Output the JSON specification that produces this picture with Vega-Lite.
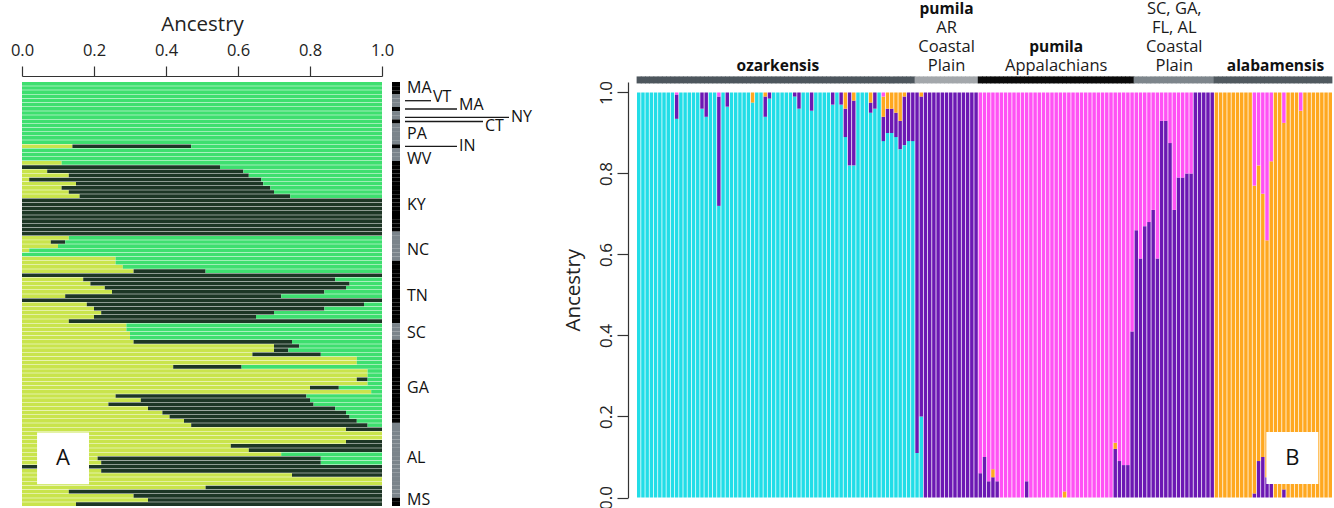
{
"$schema": "https://vega.github.io/schema/vega-lite/v6.json",
"padding": {"left": 10, "top": 1, "right": 2, "bottom": 2},
"background": "white",
"bounds": "flush",
"spacing": 10,
"config": {"view": {"stroke": null}, "font": "Open Sans", "axis": {"grid": false}},
"resolve": {"scale": {"color": "independent"}},
"datasets": {
"rowsA": [
{"r":0,"st":"MA","K1":0,"K2":0,"K3":1},{"r":1,"st":"MA","K1":0,"K2":0,"K3":1},{"r":2,"st":"MA","K1":0,"K2":0,"K3":1},
{"r":3,"st":"VT","K1":0,"K2":0,"K3":1},{"r":4,"st":"VT","K1":0,"K2":0,"K3":1},{"r":5,"st":"VT","K1":0,"K2":0,"K3":1},
{"r":6,"st":"MA","K1":0,"K2":0,"K3":1},{"r":7,"st":"NY","K1":0,"K2":0,"K3":1},{"r":8,"st":"NY","K1":0,"K2":0,"K3":1},
{"r":9,"st":"CT","K1":0,"K2":0,"K3":1},{"r":10,"st":"PA","K1":0,"K2":0,"K3":1},{"r":11,"st":"PA","K1":0,"K2":0,"K3":1},
{"r":12,"st":"PA","K1":0,"K2":0,"K3":1},{"r":13,"st":"PA","K1":0,"K2":0,"K3":1},{"r":14,"st":"PA","K1":0,"K2":0,"K3":1},
{"r":15,"st":"IN","K1":0.14,"K2":0.33,"K3":0.53},{"r":16,"st":"WV","K1":0,"K2":0,"K3":1},{"r":17,"st":"WV","K1":0,"K2":0,"K3":1},
{"r":18,"st":"WV","K1":0,"K2":0,"K3":1},{"r":19,"st":"KY","K1":0.11,"K2":0,"K3":0.89},{"r":20,"st":"KY","K1":0,"K2":0.55,"K3":0.45},
{"r":21,"st":"KY","K1":0.07,"K2":0.545,"K3":0.385},{"r":22,"st":"KY","K1":0.13,"K2":0.5,"K3":0.37},{"r":23,"st":"KY","K1":0.02,"K2":0.645,"K3":0.335},
{"r":24,"st":"KY","K1":0.15,"K2":0.52,"K3":0.33},{"r":25,"st":"KY","K1":0.11,"K2":0.58,"K3":0.31},{"r":26,"st":"KY","K1":0.13,"K2":0.57,"K3":0.3},
{"r":27,"st":"KY","K1":0.16,"K2":0.585,"K3":0.255},{"r":28,"st":"KY","K1":0,"K2":1,"K3":0},{"r":29,"st":"KY","K1":0,"K2":1,"K3":0},
{"r":30,"st":"KY","K1":0,"K2":1,"K3":0},{"r":31,"st":"KY","K1":0,"K2":1,"K3":0},{"r":32,"st":"KY","K1":0,"K2":1,"K3":0},
{"r":33,"st":"KY","K1":0,"K2":1,"K3":0},{"r":34,"st":"KY","K1":0,"K2":1,"K3":0},{"r":35,"st":"KY","K1":0,"K2":1,"K3":0},
{"r":36,"st":"NC","K1":0,"K2":1,"K3":0},{"r":37,"st":"NC","K1":0.13,"K2":0,"K3":0.87},{"r":38,"st":"NC","K1":0.08,"K2":0.04,"K3":0.88},
{"r":39,"st":"NC","K1":0.1,"K2":0,"K3":0.9},{"r":40,"st":"NC","K1":0.02,"K2":0,"K3":0.98},{"r":41,"st":"NC","K1":0,"K2":0,"K3":1},
{"r":42,"st":"NC","K1":0.26,"K2":0,"K3":0.74},{"r":43,"st":"TN","K1":0.26,"K2":0,"K3":0.74},{"r":44,"st":"TN","K1":0.28,"K2":0,"K3":0.72},
{"r":45,"st":"TN","K1":0.31,"K2":0.2,"K3":0.49},{"r":46,"st":"TN","K1":0,"K2":1,"K3":0},{"r":47,"st":"TN","K1":0.17,"K2":0.7,"K3":0.13},
{"r":48,"st":"TN","K1":0.19,"K2":0.72,"K3":0.09},{"r":49,"st":"TN","K1":0.23,"K2":0.67,"K3":0.1},{"r":50,"st":"TN","K1":0.25,"K2":0.59,"K3":0.16},
{"r":51,"st":"TN","K1":0.12,"K2":0.6,"K3":0.28},{"r":52,"st":"TN","K1":0,"K2":1,"K3":0},{"r":53,"st":"TN","K1":0.18,"K2":0.77,"K3":0.05},
{"r":54,"st":"TN","K1":0.2,"K2":0.64,"K3":0.16},{"r":55,"st":"TN","K1":0.22,"K2":0.48,"K3":0.3},{"r":56,"st":"TN","K1":0.2,"K2":0.45,"K3":0.35},
{"r":57,"st":"TN","K1":0.13,"K2":0.87,"K3":0},{"r":58,"st":"SC","K1":0.29,"K2":0,"K3":0.71},{"r":59,"st":"SC","K1":0.29,"K2":0,"K3":0.71},
{"r":60,"st":"SC","K1":0.3,"K2":0,"K3":0.7},{"r":61,"st":"SC","K1":0.3,"K2":0,"K3":0.7},{"r":62,"st":"GA","K1":0.31,"K2":0.44,"K3":0.25},
{"r":63,"st":"GA","K1":0.7,"K2":0.07,"K3":0.23},{"r":64,"st":"GA","K1":0.7,"K2":0.04,"K3":0.26},{"r":65,"st":"GA","K1":0.64,"K2":0.19,"K3":0.17},
{"r":66,"st":"GA","K1":0.93,"K2":0,"K3":0.07},{"r":67,"st":"GA","K1":0.93,"K2":0,"K3":0.07},{"r":68,"st":"GA","K1":0.42,"K2":0.19,"K3":0.39},
{"r":69,"st":"GA","K1":0.96,"K2":0,"K3":0.04},{"r":70,"st":"GA","K1":0.96,"K2":0,"K3":0.04},{"r":71,"st":"GA","K1":0.93,"K2":0.03,"K3":0.04},
{"r":72,"st":"GA","K1":0.96,"K2":0,"K3":0.04},{"r":73,"st":"GA","K1":0.8,"K2":0.08,"K3":0.12},{"r":74,"st":"GA","K1":0.97,"K2":0,"K3":0.03},
{"r":75,"st":"GA","K1":0.26,"K2":0.53,"K3":0.21},{"r":76,"st":"GA","K1":0.33,"K2":0.47,"K3":0.2},{"r":77,"st":"GA","K1":0.24,"K2":0.57,"K3":0.19},
{"r":78,"st":"GA","K1":0.35,"K2":0.52,"K3":0.13},{"r":79,"st":"GA","K1":0.39,"K2":0.51,"K3":0.1},{"r":80,"st":"GA","K1":0.41,"K2":0.5,"K3":0.09},
{"r":81,"st":"GA","K1":0.45,"K2":0.48,"K3":0.07},{"r":82,"st":"AL","K1":0.47,"K2":0.49,"K3":0.04},{"r":83,"st":"AL","K1":0.9,"K2":0.1,"K3":0},
{"r":84,"st":"AL","K1":1,"K2":0,"K3":0},{"r":85,"st":"AL","K1":1,"K2":0,"K3":0},{"r":86,"st":"AL","K1":0.9,"K2":0.1,"K3":0},
{"r":87,"st":"AL","K1":0.58,"K2":0.42,"K3":0},{"r":88,"st":"AL","K1":0.63,"K2":0.37,"K3":0},{"r":89,"st":"AL","K1":0.72,"K2":0,"K3":0.28},
{"r":90,"st":"AL","K1":0.21,"K2":0.62,"K3":0.17},{"r":91,"st":"AL","K1":0.22,"K2":0.61,"K3":0.17},{"r":92,"st":"AL","K1":0,"K2":1,"K3":0},
{"r":93,"st":"AL","K1":0.22,"K2":0.78,"K3":0},{"r":94,"st":"AL","K1":0.75,"K2":0.25,"K3":0},{"r":95,"st":"AL","K1":1,"K2":0,"K3":0},
{"r":96,"st":"AL","K1":1,"K2":0,"K3":0},{"r":97,"st":"AL","K1":0.51,"K2":0.49,"K3":0},{"r":98,"st":"AL","K1":0.13,"K2":0.87,"K3":0},
{"r":99,"st":"AL","K1":0.31,"K2":0.69,"K3":0},{"r":100,"st":"MS","K1":0.35,"K2":0.65,"K3":0},{"r":101,"st":"MS","K1":0.15,"K2":0.85,"K3":0}
],
"labelsA": [
{"st":"MA","tr":1,"lv":0},{"st":"VT","tr":3,"lr":4,"lv":1},{"st":"MA","tr":5,"lr":6,"lv":2},{"st":"NY","tr":8,"lr":8,"lv":4},
{"st":"CT","tr":10,"lr":9,"lv":3},{"st":"PA","tr":12,"lv":0},{"st":"IN","tr":15,"lr":15,"lv":2},{"st":"WV","tr":18,"lv":0},
{"st":"KY","tr":29,"lv":0},{"st":"NC","tr":40,"lv":0},{"st":"TN","tr":51,"lv":0},{"st":"SC","tr":60,"lv":0},
{"st":"GA","tr":73,"lv":0},{"st":"AL","tr":90,"lv":0},{"st":"MS","tr":100,"lv":0}
],
"headB": [
{"i":73,"t":"pumila","w":"bold","ln":0},{"i":127,"t":"SC, GA,","w":"normal","ln":0},
{"i":73,"t":"AR","w":"normal","ln":1},{"i":127,"t":"FL, AL","w":"normal","ln":1},
{"i":73,"t":"Coastal","w":"normal","ln":2},{"i":99,"t":"pumila","w":"bold","ln":2},{"i":127,"t":"Coastal","w":"normal","ln":2},
{"i":33,"t":"ozarkensis","w":"bold","ln":3},{"i":73,"t":"Plain","w":"normal","ln":3},{"i":99,"t":"Appalachians","w":"normal","ln":3},
{"i":127,"t":"Plain","w":"normal","ln":3},{"i":151,"t":"alabamensis","w":"bold","ln":3}
],
"indB": [
{"i":0,"g":"oz","K1":1,"K2":0,"K3":0,"K4":0},{"i":1,"g":"oz","K1":1,"K2":0,"K3":0,"K4":0},{"i":2,"g":"oz","K1":1,"K2":0,"K3":0,"K4":0},
{"i":3,"g":"oz","K1":1,"K2":0,"K3":0,"K4":0},{"i":4,"g":"oz","K1":1,"K2":0,"K3":0,"K4":0},{"i":5,"g":"oz","K1":1,"K2":0,"K3":0,"K4":0},
{"i":6,"g":"oz","K1":1,"K2":0,"K3":0,"K4":0},{"i":7,"g":"oz","K1":1,"K2":0,"K3":0,"K4":0},{"i":8,"g":"oz","K1":1,"K2":0,"K3":0,"K4":0},
{"i":9,"g":"oz","K1":0.935,"K2":0.06,"K3":0,"K4":0.005},{"i":10,"g":"oz","K1":1,"K2":0,"K3":0,"K4":0},{"i":11,"g":"oz","K1":1,"K2":0,"K3":0,"K4":0},
{"i":12,"g":"oz","K1":1,"K2":0,"K3":0,"K4":0},{"i":13,"g":"oz","K1":1,"K2":0,"K3":0,"K4":0},{"i":14,"g":"oz","K1":1,"K2":0,"K3":0,"K4":0},
{"i":15,"g":"oz","K1":0.96,"K2":0.04,"K3":0,"K4":0},{"i":16,"g":"oz","K1":0.94,"K2":0.06,"K3":0,"K4":0},{"i":17,"g":"oz","K1":1,"K2":0,"K3":0,"K4":0},
{"i":18,"g":"oz","K1":1,"K2":0,"K3":0,"K4":0},{"i":19,"g":"oz","K1":0.72,"K2":0.27,"K3":0,"K4":0.01},{"i":20,"g":"oz","K1":1,"K2":0,"K3":0,"K4":0},
{"i":21,"g":"oz","K1":0.965,"K2":0.035,"K3":0,"K4":0},{"i":22,"g":"oz","K1":1,"K2":0,"K3":0,"K4":0},{"i":23,"g":"oz","K1":1,"K2":0,"K3":0,"K4":0},
{"i":24,"g":"oz","K1":1,"K2":0,"K3":0,"K4":0},{"i":25,"g":"oz","K1":1,"K2":0,"K3":0,"K4":0},{"i":26,"g":"oz","K1":1,"K2":0,"K3":0,"K4":0},
{"i":27,"g":"oz","K1":0.975,"K2":0,"K3":0.025,"K4":0},{"i":28,"g":"oz","K1":1,"K2":0,"K3":0,"K4":0},{"i":29,"g":"oz","K1":1,"K2":0,"K3":0,"K4":0},
{"i":30,"g":"oz","K1":0.94,"K2":0.05,"K3":0.01,"K4":0},{"i":31,"g":"oz","K1":0.985,"K2":0.015,"K3":0,"K4":0},{"i":32,"g":"oz","K1":1,"K2":0,"K3":0,"K4":0},
{"i":33,"g":"oz","K1":1,"K2":0,"K3":0,"K4":0},{"i":34,"g":"oz","K1":1,"K2":0,"K3":0,"K4":0},{"i":35,"g":"oz","K1":1,"K2":0,"K3":0,"K4":0},
{"i":36,"g":"oz","K1":1,"K2":0,"K3":0,"K4":0},{"i":37,"g":"oz","K1":0.99,"K2":0.01,"K3":0,"K4":0},{"i":38,"g":"oz","K1":0.96,"K2":0.04,"K3":0,"K4":0},
{"i":39,"g":"oz","K1":1,"K2":0,"K3":0,"K4":0},{"i":40,"g":"oz","K1":1,"K2":0,"K3":0,"K4":0},{"i":41,"g":"oz","K1":0.955,"K2":0.045,"K3":0,"K4":0},
{"i":42,"g":"oz","K1":1,"K2":0,"K3":0,"K4":0},{"i":43,"g":"oz","K1":1,"K2":0,"K3":0,"K4":0},{"i":44,"g":"oz","K1":1,"K2":0,"K3":0,"K4":0},
{"i":45,"g":"oz","K1":1,"K2":0,"K3":0,"K4":0},{"i":46,"g":"oz","K1":0.97,"K2":0.03,"K3":0,"K4":0},{"i":47,"g":"oz","K1":1,"K2":0,"K3":0,"K4":0},
{"i":48,"g":"oz","K1":0.97,"K2":0.03,"K3":0,"K4":0},{"i":49,"g":"oz","K1":0.89,"K2":0.07,"K3":0.04,"K4":0},{"i":50,"g":"oz","K1":0.82,"K2":0.18,"K3":0,"K4":0},
{"i":51,"g":"oz","K1":0.82,"K2":0.16,"K3":0.02,"K4":0},{"i":52,"g":"oz","K1":1,"K2":0,"K3":0,"K4":0},{"i":53,"g":"oz","K1":1,"K2":0,"K3":0,"K4":0},
{"i":54,"g":"oz","K1":1,"K2":0,"K3":0,"K4":0},{"i":55,"g":"oz","K1":0.95,"K2":0.025,"K3":0.025,"K4":0},{"i":56,"g":"oz","K1":0.96,"K2":0.04,"K3":0,"K4":0},
{"i":57,"g":"oz","K1":1,"K2":0,"K3":0,"K4":0},{"i":58,"g":"oz","K1":0.88,"K2":0.06,"K3":0.05,"K4":0.01},{"i":59,"g":"oz","K1":0.9,"K2":0.06,"K3":0.04,"K4":0},
{"i":60,"g":"oz","K1":0.9,"K2":0.06,"K3":0.04,"K4":0},{"i":61,"g":"oz","K1":0.89,"K2":0.06,"K3":0.05,"K4":0},{"i":62,"g":"oz","K1":0.86,"K2":0.07,"K3":0.07,"K4":0},
{"i":63,"g":"oz","K1":0.87,"K2":0.12,"K3":0.01,"K4":0},{"i":64,"g":"oz","K1":0.88,"K2":0.12,"K3":0,"K4":0},{"i":65,"g":"oz","K1":0.88,"K2":0.12,"K3":0,"K4":0},
{"i":66,"g":"ar","K1":0.11,"K2":0.89,"K3":0,"K4":0},{"i":67,"g":"ar","K1":0.2,"K2":0.79,"K3":0.01,"K4":0},{"i":68,"g":"ar","K1":0,"K2":1,"K3":0,"K4":0},
{"i":69,"g":"ar","K1":0,"K2":1,"K3":0,"K4":0},{"i":70,"g":"ar","K1":0,"K2":1,"K3":0,"K4":0},{"i":71,"g":"ar","K1":0,"K2":1,"K3":0,"K4":0},
{"i":72,"g":"ar","K1":0,"K2":1,"K3":0,"K4":0},{"i":73,"g":"ar","K1":0,"K2":1,"K3":0,"K4":0},{"i":74,"g":"ar","K1":0,"K2":1,"K3":0,"K4":0},
{"i":75,"g":"ar","K1":0,"K2":1,"K3":0,"K4":0},{"i":76,"g":"ar","K1":0,"K2":1,"K3":0,"K4":0},{"i":77,"g":"ar","K1":0,"K2":1,"K3":0,"K4":0},
{"i":78,"g":"ar","K1":0,"K2":1,"K3":0,"K4":0},{"i":79,"g":"ar","K1":0,"K2":1,"K3":0,"K4":0},{"i":80,"g":"ar","K1":0,"K2":1,"K3":0,"K4":0},
{"i":81,"g":"ap","K1":0,"K2":0.06,"K3":0,"K4":0.94},{"i":82,"g":"ap","K1":0,"K2":0.1,"K3":0,"K4":0.9},{"i":83,"g":"ap","K1":0,"K2":0.04,"K3":0,"K4":0.96},
{"i":84,"g":"ap","K1":0,"K2":0.05,"K3":0.02,"K4":0.93},{"i":85,"g":"ap","K1":0,"K2":0.04,"K3":0,"K4":0.96},{"i":86,"g":"ap","K1":0,"K2":0,"K3":0,"K4":1},
{"i":87,"g":"ap","K1":0,"K2":0,"K3":0,"K4":1},{"i":88,"g":"ap","K1":0,"K2":0,"K3":0,"K4":1},{"i":89,"g":"ap","K1":0,"K2":0,"K3":0,"K4":1},
{"i":90,"g":"ap","K1":0,"K2":0,"K3":0,"K4":1},{"i":91,"g":"ap","K1":0,"K2":0,"K3":0,"K4":1},{"i":92,"g":"ap","K1":0,"K2":0.04,"K3":0,"K4":0.96},
{"i":93,"g":"ap","K1":0,"K2":0,"K3":0,"K4":1},{"i":94,"g":"ap","K1":0,"K2":0,"K3":0,"K4":1},{"i":95,"g":"ap","K1":0,"K2":0,"K3":0,"K4":1},
{"i":96,"g":"ap","K1":0,"K2":0,"K3":0,"K4":1},{"i":97,"g":"ap","K1":0,"K2":0,"K3":0,"K4":1},{"i":98,"g":"ap","K1":0,"K2":0,"K3":0,"K4":1},
{"i":99,"g":"ap","K1":0,"K2":0,"K3":0,"K4":1},{"i":100,"g":"ap","K1":0,"K2":0,"K3":0,"K4":1},{"i":101,"g":"ap","K1":0,"K2":0,"K3":0.015,"K4":0.985},
{"i":102,"g":"ap","K1":0,"K2":0,"K3":0,"K4":1},{"i":103,"g":"ap","K1":0,"K2":0,"K3":0,"K4":1},{"i":104,"g":"ap","K1":0,"K2":0,"K3":0,"K4":1},
{"i":105,"g":"ap","K1":0,"K2":0,"K3":0,"K4":1},{"i":106,"g":"ap","K1":0,"K2":0,"K3":0,"K4":1},{"i":107,"g":"ap","K1":0,"K2":0,"K3":0,"K4":1},
{"i":108,"g":"ap","K1":0,"K2":0,"K3":0,"K4":1},{"i":109,"g":"ap","K1":0,"K2":0,"K3":0,"K4":1},{"i":110,"g":"ap","K1":0,"K2":0,"K3":0,"K4":1},
{"i":111,"g":"ap","K1":0,"K2":0,"K3":0,"K4":1},{"i":112,"g":"ap","K1":0,"K2":0,"K3":0,"K4":1},{"i":113,"g":"ap","K1":0,"K2":0.12,"K3":0.015,"K4":0.865},
{"i":114,"g":"ap","K1":0,"K2":0.09,"K3":0,"K4":0.91},{"i":115,"g":"ap","K1":0,"K2":0.08,"K3":0,"K4":0.92},{"i":116,"g":"ap","K1":0,"K2":0.08,"K3":0,"K4":0.92},
{"i":117,"g":"ap","K1":0,"K2":0.41,"K3":0,"K4":0.59},{"i":118,"g":"sc","K1":0,"K2":0.66,"K3":0,"K4":0.34},{"i":119,"g":"sc","K1":0,"K2":0.59,"K3":0,"K4":0.41},
{"i":120,"g":"sc","K1":0,"K2":0.67,"K3":0,"K4":0.33},{"i":121,"g":"sc","K1":0,"K2":0.68,"K3":0,"K4":0.32},{"i":122,"g":"sc","K1":0,"K2":0.71,"K3":0,"K4":0.29},
{"i":123,"g":"sc","K1":0,"K2":0.59,"K3":0,"K4":0.41},{"i":124,"g":"sc","K1":0,"K2":0.93,"K3":0,"K4":0.07},{"i":125,"g":"sc","K1":0,"K2":0.93,"K3":0,"K4":0.07},
{"i":126,"g":"sc","K1":0,"K2":0.875,"K3":0,"K4":0.125},{"i":127,"g":"sc","K1":0,"K2":0.71,"K3":0,"K4":0.29},{"i":128,"g":"sc","K1":0,"K2":0.79,"K3":0,"K4":0.21},
{"i":129,"g":"sc","K1":0,"K2":0.79,"K3":0,"K4":0.21},{"i":130,"g":"sc","K1":0,"K2":0.8,"K3":0,"K4":0.2},{"i":131,"g":"sc","K1":0,"K2":0.8,"K3":0,"K4":0.2},
{"i":132,"g":"sc","K1":0,"K2":1,"K3":0,"K4":0},{"i":133,"g":"sc","K1":0,"K2":1,"K3":0,"K4":0},{"i":134,"g":"sc","K1":0,"K2":1,"K3":0,"K4":0},
{"i":135,"g":"sc","K1":0,"K2":1,"K3":0,"K4":0},{"i":136,"g":"sc","K1":0,"K2":1,"K3":0,"K4":0},{"i":137,"g":"al","K1":0,"K2":0,"K3":1,"K4":0},
{"i":138,"g":"al","K1":0,"K2":0,"K3":1,"K4":0},{"i":139,"g":"al","K1":0,"K2":0,"K3":1,"K4":0},{"i":140,"g":"al","K1":0,"K2":0,"K3":1,"K4":0},
{"i":141,"g":"al","K1":0,"K2":0,"K3":1,"K4":0},{"i":142,"g":"al","K1":0,"K2":0,"K3":1,"K4":0},{"i":143,"g":"al","K1":0,"K2":0,"K3":1,"K4":0},
{"i":144,"g":"al","K1":0,"K2":0,"K3":1,"K4":0},{"i":145,"g":"al","K1":0,"K2":0,"K3":1,"K4":0},{"i":146,"g":"al","K1":0,"K2":0.01,"K3":0.76,"K4":0.23},
{"i":147,"g":"al","K1":0,"K2":0.09,"K3":0.73,"K4":0.18},{"i":148,"g":"al","K1":0,"K2":0.1,"K3":0.65,"K4":0.25},{"i":149,"g":"al","K1":0,"K2":0.05,"K3":0.585,"K4":0.365},
{"i":150,"g":"al","K1":0,"K2":0.035,"K3":0.795,"K4":0.17},{"i":151,"g":"al","K1":0,"K2":0,"K3":1,"K4":0},{"i":152,"g":"al","K1":0,"K2":0,"K3":1,"K4":0},
{"i":153,"g":"al","K1":0,"K2":0.02,"K3":0.905,"K4":0.075},{"i":154,"g":"al","K1":0,"K2":0,"K3":1,"K4":0},{"i":155,"g":"al","K1":0,"K2":0,"K3":1,"K4":0},
{"i":156,"g":"al","K1":0,"K2":0,"K3":1,"K4":0},{"i":157,"g":"al","K1":0,"K2":0,"K3":0.955,"K4":0.045},{"i":158,"g":"al","K1":0,"K2":0,"K3":1,"K4":0},
{"i":159,"g":"al","K1":0,"K2":0,"K3":1,"K4":0},{"i":160,"g":"al","K1":0,"K2":0,"K3":1,"K4":0},{"i":161,"g":"al","K1":0,"K2":0,"K3":1,"K4":0},
{"i":162,"g":"al","K1":0,"K2":0,"K3":1,"K4":0},{"i":163,"g":"al","K1":0,"K2":0,"K3":1,"K4":0},{"i":164,"g":"al","K1":0,"K2":0,"K3":1,"K4":0}
]
},
"hconcat": [
{
 "width": 360, "height": 424,
 "layer": [
  {"data": {"name": "rowsA"},
   "transform": [{"fold": ["K1","K2","K3"], "as": ["k","v"]}, {"filter": "datum.v > 0"}],
   "mark": {"type": "bar"},
   "encoding": {
    "y": {"field": "r", "type": "ordinal", "axis": null, "scale": {"paddingInner": 0.12, "paddingOuter": 0}},
    "x": {"field": "v", "type": "quantitative", "stack": "zero", "scale": {"domain": [0, 1], "nice": false},
          "axis": {"orient": "top", "title": "Ancestry", "values": [0, 0.2, 0.4, 0.6, 0.8, 1], "format": ".1f", "labelFlush": false,
                   "labelFontSize": 16.5, "titleFontSize": 20.5, "titleFontWeight": "normal", "tickSize": 10, "offset": 6,
                   "labelPadding": 8, "titlePadding": 8, "domainColor": "#333", "tickColor": "#333", "labelColor": "#222",
                   "titleColor": "#222", "domainWidth": 1.2, "tickWidth": 1.2}},
    "color": {"field": "k", "type": "nominal", "scale": {"domain": ["K1","K2","K3"], "range": ["#c9e44c","#1d3625","#3edf6f"]}, "legend": null},
    "order": {"field": "k", "type": "ordinal", "sort": "ascending"}
   }},
  {"data": {"values": [{"lab": "A", "xv": 0.114, "rr": 90}]},
   "mark": {"type": "point", "shape": "square", "filled": true, "size": 2700, "color": "white", "opacity": 1},
   "encoding": {"x": {"field": "xv", "type": "quantitative"}, "y": {"field": "rr", "type": "ordinal"}}},
  {"data": {"values": [{"lab": "A", "xv": 0.114, "rr": 90}]},
   "mark": {"type": "text", "fontSize": 22, "color": "#111"},
   "encoding": {"x": {"field": "xv", "type": "quantitative"}, "y": {"field": "rr", "type": "ordinal"}, "text": {"field": "lab"}}}
 ]
},
{"width": 8, "height": 424,
 "data": {"name": "rowsA"},
 "mark": {"type": "bar"},
 "encoding": {
  "y": {"field": "r", "type": "ordinal", "axis": null, "scale": {"paddingInner": 0, "paddingOuter": 0}},
  "color": {"field": "st", "type": "nominal", "legend": null,
            "scale": {"domain": ["MA","VT","NY","CT","PA","IN","WV","KY","NC","TN","SC","GA","AL","MS"],
                      "range": ["#000000","#7b848b","#7b848b","#000000","#7b848b","#000000","#7b848b","#000000","#7b848b","#000000","#7b848b","#000000","#7b848b","#000000"]}}
 }},
{"width": 217, "height": 424,
 "layer": [
  {"data": {"name": "rowsA"},
   "mark": {"type": "point", "opacity": 0},
   "encoding": {"y": {"field": "r", "type": "ordinal", "axis": null, "scale": {"paddingInner": 0, "paddingOuter": 0}}}},
  {"data": {"name": "labelsA"},
   "transform": [{"filter": "datum.lv > 0"}],
   "mark": {"type": "rule", "color": "#1a1a1a", "strokeWidth": 1.3},
   "encoding": {"y": {"field": "lr", "type": "ordinal"},
                "x": {"field": "lv", "type": "quantitative", "scale": {"domain": [0.1923, 8.5385], "nice": false, "zero": false}, "axis": null},
                "x2": {"datum": 0}}},
  {"data": {"name": "labelsA"},
   "mark": {"type": "text", "align": "left", "baseline": "middle", "dx": 2, "fontSize": 16, "color": "#111"},
   "encoding": {"y": {"field": "tr", "type": "ordinal"}, "x": {"field": "lv", "type": "quantitative"}, "text": {"field": "st"}}}
 ]
},
{
 "width": 695, "height": 415.5,
 "data": {"name": "indB"},
 "layer": [
  {"mark": {"type": "tick", "orient": "horizontal", "thickness": 7, "size": 5, "opacity": 1},
   "encoding": {
    "x": {"field": "i", "type": "ordinal", "axis": null, "scale": {"paddingInner": 0, "paddingOuter": 0}},
    "y": {"datum": 1.031, "type": "quantitative"},
    "color": {"field": "g", "type": "nominal", "legend": null,
              "scale": {"domain": ["oz","ar","ap","sc","al"], "range": ["#4d565d","#a3a7ab","#0a0a0a","#7d858b","#50595f"]}}
   }},
  {"layer": [
    {"transform": [{"fold": ["K1","K2","K3","K4"], "as": ["k","v"]}, {"filter": "datum.v > 0"}],
     "mark": {"type": "bar"},
     "encoding": {
      "x": {"field": "i", "type": "ordinal", "axis": null, "scale": {"paddingInner": 0.18, "paddingOuter": 0}},
      "y": {"field": "v", "type": "quantitative", "stack": "zero", "scale": {"domain": [0, 1.0259], "nice": false, "zero": false},
            "axis": {"title": "Ancestry", "values": [0, 0.2, 0.4, 0.6, 0.8, 1], "format": ".1f", "labelAngle": -90, "labelAlign": "center",
                     "labelBaseline": "alphabetic", "labelPadding": 6, "labelFontSize": 17, "labelFlush": false, "tickSize": 11, "offset": 9,
                     "titleFontSize": 20.5, "titleFontWeight": "normal", "titlePadding": 14, "domainColor": "#333", "tickColor": "#333",
                     "labelColor": "#222", "titleColor": "#222", "domainWidth": 1.2, "tickWidth": 1.2}},
      "color": {"field": "k", "type": "nominal", "legend": null,
                "scale": {"domain": ["K1","K2","K3","K4"], "range": ["#22dde7","#6c18b3","#ffa820","#ff52f4"]}},
      "order": {"field": "k", "type": "ordinal", "sort": "ascending"}
     }},
    {"data": {"name": "headB"}, "transform": [{"filter": "datum.ln == 0 && datum.w == 'normal'"}],
     "mark": {"type": "text", "fontSize": 16.5, "baseline": "alphabetic", "align": "center", "color": "#1a1a1a"},
     "encoding": {"x": {"field": "i", "type": "ordinal"}, "y": {"datum": 1.1926, "type": "quantitative"}, "text": {"field": "t"}}},
    {"data": {"name": "headB"}, "transform": [{"filter": "datum.ln == 1 && datum.w == 'normal'"}],
     "mark": {"type": "text", "fontSize": 16.5, "baseline": "alphabetic", "align": "center", "color": "#1a1a1a"},
     "encoding": {"x": {"field": "i", "type": "ordinal"}, "y": {"datum": 1.1464, "type": "quantitative"}, "text": {"field": "t"}}},
    {"data": {"name": "headB"}, "transform": [{"filter": "datum.ln == 2 && datum.w == 'normal'"}],
     "mark": {"type": "text", "fontSize": 16.5, "baseline": "alphabetic", "align": "center", "color": "#1a1a1a"},
     "encoding": {"x": {"field": "i", "type": "ordinal"}, "y": {"datum": 1.1002, "type": "quantitative"}, "text": {"field": "t"}}},
    {"data": {"name": "headB"}, "transform": [{"filter": "datum.ln == 3 && datum.w == 'normal'"}],
     "mark": {"type": "text", "fontSize": 16.5, "baseline": "alphabetic", "align": "center", "color": "#1a1a1a"},
     "encoding": {"x": {"field": "i", "type": "ordinal"}, "y": {"datum": 1.0541, "type": "quantitative"}, "text": {"field": "t"}}},
    {"data": {"name": "headB"}, "transform": [{"filter": "datum.ln == 0 && datum.w == 'bold'"}],
     "mark": {"type": "text", "fontSize": 15.5, "fontWeight": "bold", "baseline": "alphabetic", "align": "center", "color": "#111"},
     "encoding": {"x": {"field": "i", "type": "ordinal"}, "y": {"datum": 1.1926, "type": "quantitative"}, "text": {"field": "t"}}},
    {"data": {"name": "headB"}, "transform": [{"filter": "datum.ln == 2 && datum.w == 'bold'"}],
     "mark": {"type": "text", "fontSize": 15.5, "fontWeight": "bold", "baseline": "alphabetic", "align": "center", "color": "#111"},
     "encoding": {"x": {"field": "i", "type": "ordinal"}, "y": {"datum": 1.1002, "type": "quantitative"}, "text": {"field": "t"}}},
    {"data": {"name": "headB"}, "transform": [{"filter": "datum.ln == 3 && datum.w == 'bold'"}],
     "mark": {"type": "text", "fontSize": 15.5, "fontWeight": "bold", "baseline": "alphabetic", "align": "center", "color": "#111"},
     "encoding": {"x": {"field": "i", "type": "ordinal"}, "y": {"datum": 1.0541, "type": "quantitative"}, "text": {"field": "t"}}},
    {"data": {"values": [{"lab": "B", "i": 155, "yv": 0.0975}]},
     "mark": {"type": "point", "shape": "square", "filled": true, "size": 2700, "color": "white", "opacity": 1},
     "encoding": {"x": {"field": "i", "type": "ordinal"}, "y": {"field": "yv", "type": "quantitative"}}},
    {"data": {"values": [{"lab": "B", "i": 155, "yv": 0.0975}]},
     "mark": {"type": "text", "fontSize": 22, "color": "#111"},
     "encoding": {"x": {"field": "i", "type": "ordinal"}, "y": {"field": "yv", "type": "quantitative"}, "text": {"field": "lab"}}}
  ]}
 ],
 "resolve": {"scale": {"x": "independent", "color": "independent"}}
}
]
}
